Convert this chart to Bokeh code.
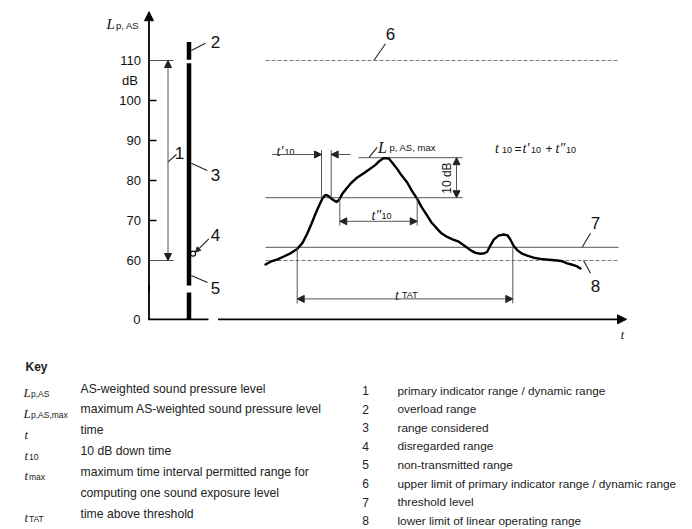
import math
from bokeh.plotting import figure
from bokeh.models import Range1d, Arrow, NormalHead
from bokeh.core.properties import value
from bokeh.embed import file_html
from bokeh.resources import INLINE

# ---------------- data ----------------
y_ticks = [60, 70, 80, 90, 100, 110]
y_tick_labels = ["60", "70", "80", "90", "100", "110"]
zero_level = 45.3          # virtual level at which the broken axis shows "0"
break_lo, break_hi = 52.0, 53.75

# measured AS-weighted level L_p,AS(t)
t_curve = [265, 270, 277, 283.3, 290, 296.7, 302, 306.7, 311, 315, 318.5, 321.7, 324, 326,
           328.5, 331.7, 336, 339, 341.7, 346, 350, 356, 363.3, 369, 375, 379, 383.3, 388.3,
           392, 396.7, 401, 406.7, 411, 416.7, 421, 426.7, 431, 436.7, 441, 446.7, 452, 458.3,
           464, 470, 475, 480, 484, 486.7, 490, 493.3, 498, 503.3, 507, 510, 513, 516.7, 521,
           526.7, 533, 540, 548, 556.7, 562, 566.7, 571, 576, 580]
L_curve = [59.0, 59.7, 60.3, 61.0, 61.8, 62.9, 64.4, 66.7, 69.2, 71.7, 73.7, 75.4, 76.2, 76.4,
           76.0, 75.3, 74.6, 75.3, 76.6, 78.0, 79.2, 80.6, 81.8, 82.8, 83.9, 84.9, 85.6, 85.5,
           84.4, 82.9, 81.3, 79.5, 77.6, 75.4, 73.4, 71.2, 69.5, 67.9, 66.8, 65.9, 65.3, 64.7,
           63.7, 62.6, 61.9, 61.7, 61.8, 62.2, 63.8, 65.2, 66.2, 66.5, 66.3, 65.2, 63.7, 62.6,
           61.8, 61.2, 60.7, 60.4, 60.2, 60.0, 59.8, 59.3, 59.0, 58.6, 58.0]

L_max = 85.7
L_10down = 75.7
L_upper = 110.0       # 6
L_threshold = 63.3    # 7
L_lower = 60.0        # 8
t_start, t_end = 265, 618
t10_prime = [321, 330.7]
t10_dprime = [339.3, 416.7]
t_tat = [296.7, 512.3]

# indicator bar (2 overload, 3 considered, 4 disregarded, 5 non-transmitted)
bar_x = 188.5
bar_segments = [(110.2, 114.6), (53.75, 109.3), (zero_level, 52.0)]
disregarded_level = 61.7

key_symbols = [("L", "p,AS"), ("L", "p,AS,max"), ("t", ""), ("t", "10"), ("t", "max"), ("t", "TAT")]
key_symbol_rows = [0, 1, 2, 3, 4, 6]
key_desc = ["AS-weighted sound pressure level",
            "maximum AS-weighted sound pressure level",
            "time",
            "10 dB down time",
            "maximum time interval permitted range for",
            "computing one sound exposure level",
            "time above threshold"]
num_labels = ["1", "2", "3", "4", "5", "6", "7", "8"]
num_desc = ["primary indicator range / dynamic range",
            "overload range",
            "range considered",
            "disregarded range",
            "non-transmitted range",
            "upper limit of primary indicator range / dynamic range",
            "threshold level",
            "lower limit of linear operating range"]

# ---------------- figure ----------------
W, H = 692, 529
p = figure(width=W, height=H, x_range=Range1d(0, 692), y_range=Range1d(-7.25, 125),
           output_backend="svg", toolbar_location=None, min_border=0,
           x_axis_location=None, y_axis_location=None)
p.extra_y_ranges = {"key": Range1d(start=529, end=0)}
p.grid.visible = False
p.outline_line_color = None
p.background_fill_color = "white"

SANS = value("Liberation Sans")
SERIF = value("Liberation Serif")
INK = "black"
THIN = "#555555"


def txt(x, y, s, size=13, align="left", base="middle", font=SANS, style="normal",
        color="#111111", rng="default", xo=0, yo=0, angle=0):
    p.text(x=[x], y=[y], text=[s], text_font=font, text_font_size=f"{size}px",
           text_align=align, text_baseline=base, text_font_style=style, text_color=color,
           y_range_name=rng, x_offset=xo, y_offset=yo, angle=angle)


def sym(x, y, main, sub, size=14, sub_size=9.5, dx=5, dy=2.5, rng="default", color="#111111"):
    txt(x, y, main, size=size, base="alphabetic", font=SERIF, style="italic", rng=rng, color=color)
    if sub:
        txt(x, y, sub, size=sub_size, base="alphabetic", rng=rng, xo=dx, yo=dy, color=color)


def seg(x0, y0, x1, y1, color=THIN, width=1.0, dash="solid", cap="butt"):
    p.segment(x0=[x0], y0=[y0], x1=[x1], y1=[y1], line_color=color, line_width=width,
              line_dash=dash, line_cap=cap)


def head(size=7):
    return NormalHead(size=size, fill_color="#222222", line_color="#222222", line_width=1)


def arrow(x0, y0, x1, y1, both=True, size=7, color=THIN, width=1.0):
    p.add_layout(Arrow(start=head(size) if both else None, end=head(size),
                       x_start=x0, y_start=y0, x_end=x1, y_end=y1,
                       line_color=color, line_width=width))


# ---- axes (broken) ----
AX = 148.5
seg(AX, zero_level, AX, break_hi, color=INK, width=1.8)
p.add_layout(Arrow(end=NormalHead(size=9, fill_color=INK, line_color=INK),
                   x_start=AX, y_start=break_lo, x_end=AX, y_end=122.2,
                   line_color=INK, line_width=1.8))
seg(AX - 0.9, zero_level, 208, zero_level, color=INK, width=1.8)
p.add_layout(Arrow(end=NormalHead(size=9, fill_color=INK, line_color=INK),
                   x_start=217.5, y_start=zero_level, x_end=626, y_end=zero_level,
                   line_color=INK, line_width=1.8))

for v in y_ticks:
    if v in (60, 110):
        seg(AX, v, 173, v, color=THIN, width=1.0)
    else:
        seg(AX, v, 156, v, color=INK, width=1.3)
p.text(x=[140.5] * len(y_ticks), y=y_ticks, text=y_tick_labels, text_font=SANS,
       text_font_size="13px", text_align="right", text_baseline="middle", text_color="#111111")
txt(140, zero_level, "0", align="right")
txt(129.5, 105, "dB", align="center")
sym(106, 119.2, "L", "p, AS", size=15, sub_size=9.5, dx=9.5, dy=2)
txt(622, 41.3, "t", size=12, font=SERIF, style="italic", align="center")

# ---- indicator bar ----
for lo, hi in bar_segments:
    seg(bar_x, lo, bar_x, hi, color=INK, width=4.5)
p.scatter(x=[192.6], y=[disregarded_level], size=5, marker="circle",
          fill_color="white", line_color=INK, line_width=1.2)

# dimension 1
arrow(167.5, 60, 167.5, 110, both=True, size=7)

# number labels with leaders
leaders = [(167.3, 84.6, 176, 86.5), (190.8, 112.5, 205, 114.3), (190.8, 84.3, 206.7, 82.5),
           (190.8, 56.25, 207, 54.5), (373.3, 110, 385, 114.2), (581.7, 63.3, 590, 66.8),
           (583, 60, 590, 56.8), (368.3, 85.7, 376.7, 88.3)]
for x0, y0, x1, y1 in leaders:
    seg(x0, y0, x1, y1, color="#222222", width=1.1)
p.add_layout(Arrow(end=NormalHead(size=5, fill_color="#222222", line_color="#222222"),
                   x_start=208.3, y_start=65.4, x_end=195, y_end=62.1,
                   line_color="#222222", line_width=1.1))
num_pos = [(179, 87), (215, 114.6), (215, 81.5), (215, 66.3), (215, 53.1), (390, 116.7),
           (595, 69.3), (595, 53.7)]
for s, (x, y) in zip(num_labels, num_pos):
    txt(x, y, s, size=17, align="center")

# ---- reference lines ----
seg(t_start, L_upper, 617, L_upper, color="#777777", width=1.1, dash="4 2")
seg(t_start, L_threshold, t_end, L_threshold, color=THIN, width=1.0)
seg(t_start, L_lower, t_end, L_lower, color="#777777", width=1.1, dash="4 2")
seg(358, L_max, 462, L_max, color=THIN, width=1.0)
seg(t_start, L_10down, 462, L_10down, color=THIN, width=1.0)

# ---- curve ----
p.line(t_curve, L_curve, line_color=INK, line_width=2.4, line_join="round", line_cap="round")

# 10 dB dimension
arrow(456, L_10down, 456, L_max, both=True, size=7)
txt(446.7, 80.6, "10 dB", size=12, align="center", angle=math.pi / 2)

# L_p,AS,max label
sym(377.5, 88.2, "L", "p, AS, max", size=16, sub_size=9.5, dx=11.5, dy=0)

# t'10
for xv in t10_prime:
    seg(xv, L_10down, xv, 87.6, color=THIN)
arrow(271.7, 86.5, t10_prime[0], 86.5, both=False, size=7)
arrow(350, 86.5, t10_prime[1], 86.5, both=False, size=7)
sym(276, 87.3, "t\u2032", "10", size=14, sub_size=9, dx=8, dy=1)

# t''10
for xv in t10_dprime:
    seg(xv, L_10down, xv, 68.75, color=THIN)
arrow(t10_dprime[0], 69.8, t10_dprime[1], 69.8, both=True, size=7)
sym(371, 71.3, "t\u2033", "10", size=14, sub_size=9, dx=10, dy=1)

# t_TAT
for xv in t_tat:
    seg(xv, L_threshold, xv, 49.25, color=THIN)
arrow(t_tat[0], 50.4, t_tat[1], 50.4, both=True, size=7)
sym(394.5, 51.3, "t", "TAT", size=14, sub_size=9, dx=7, dy=0)

# formula t10 = t'10 + t''10
FY = 87.9
sym(494.5, FY, "t", "10", size=14, sub_size=9, dx=7, dy=1)
txt(514, FY, "=", size=12, base="alphabetic")
sym(522, FY, "t\u2032", "10", size=14, sub_size=9, dx=8.5, dy=1)
txt(545, FY, "+", size=12, base="alphabetic")
sym(555, FY, "t\u2033", "10", size=14, sub_size=9, dx=10.5, dy=1)

# ---------------- key ----------------
KC = "#222222"
txt(25, 366, "Key", size=12, style="bold", rng="key", color=KC)
L0, LS = 388, 20.85
for (m, s), r in zip(key_symbols, key_symbol_rows):
    yb = L0 + LS * r + 4
    if m == "L":
        sym(23, yb, m, s, size=13, sub_size=8.5, dx=7.5, dy=1.5, rng="key", color=KC)
    else:
        sym(24, yb, m, s, size=13, sub_size=8.5, dx=4.5, dy=1.5, rng="key", color=KC)
p.text(x=[80] * len(key_desc), y=[L0 + LS * i for i in range(len(key_desc))], text=key_desc,
       text_font=SANS, text_font_size="12.2px", text_align="left", text_baseline="middle",
       text_color=KC, y_range_name="key")

R0, RS = 390, 18.6
p.text(x=[365] * len(num_labels), y=[R0 + RS * i for i in range(len(num_labels))], text=num_labels,
       text_font=SANS, text_font_size="12px", text_align="center", text_baseline="middle",
       text_color=KC, y_range_name="key")
p.text(x=[397] * len(num_desc), y=[R0 + RS * i for i in range(len(num_desc))], text=num_desc,
       text_font=SANS, text_font_size="11.8px", text_align="left", text_baseline="middle",
       text_color=KC, y_range_name="key")

open("out.html", "w").write(file_html(p, INLINE))
